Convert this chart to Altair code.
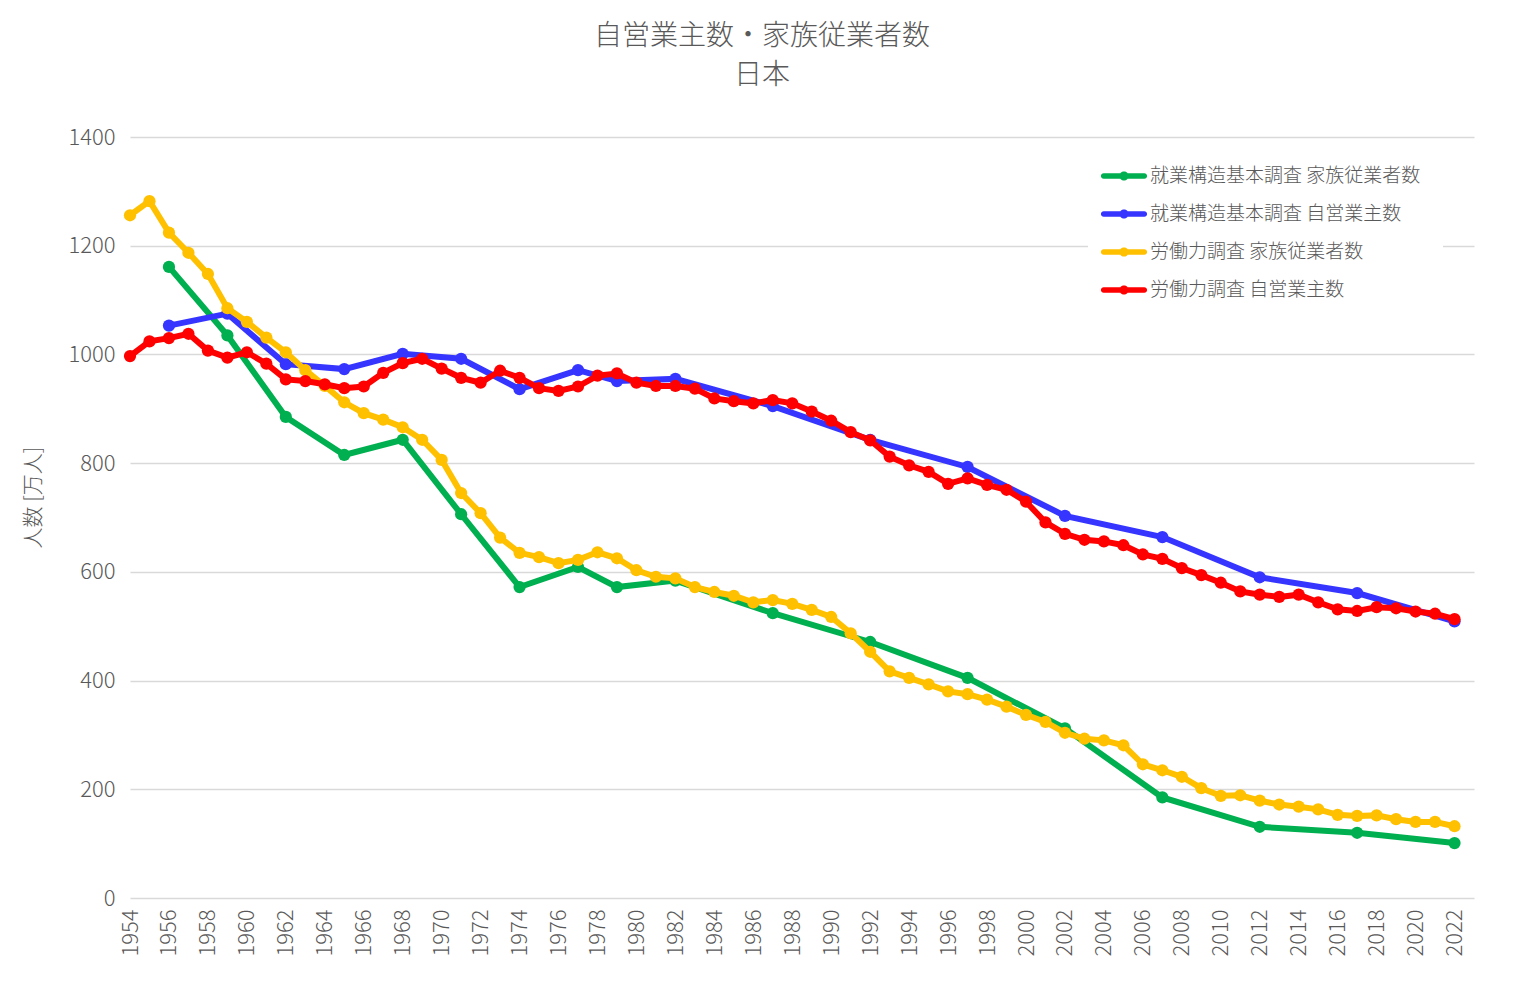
import altair as alt
import pandas as pd

# ---- data ----
lfs_years = list(range(1954, 2023))
lfs_family = [1256, 1282, 1224, 1187, 1148, 1085, 1060, 1031, 1004, 971,
              942, 912, 892, 880, 866, 843, 806, 745, 708, 663,
              635, 627, 616, 622, 636, 625, 603, 591, 588, 572,
              563, 556, 544, 548, 541, 530, 517, 487, 453, 417,
              405, 393, 380, 375, 365, 352, 337, 324, 304, 293,
              290, 281, 246, 235, 223, 202, 188, 189, 179, 172,
              168, 163, 153, 151, 152, 145, 140, 140, 132]
lfs_self = [997, 1024, 1030, 1038, 1007, 994, 1004, 983, 954, 951,
            945, 938, 941, 966, 984, 992, 974, 957, 948, 970,
            957, 938, 933, 941, 961, 965, 948, 942, 942, 937,
            919, 914, 910, 916, 910, 895, 878, 857, 842, 812,
            796, 784, 762, 772, 760, 751, 729, 691, 670, 659,
            656, 649, 632, 624, 607, 594, 580, 564, 558, 554,
            558, 544, 531, 528, 535, 533, 527, 523, 513]
ess_years = [1956, 1959, 1962, 1965, 1968, 1971, 1974, 1977, 1979, 1982,
             1987, 1992, 1997, 2002, 2007, 2012, 2017, 2022]
ess_family = [1161, 1035, 885, 815, 843, 706, 572, 609, 572, 584,
              524, 471, 405, 312, 185, 131, 120, 101]
ess_self = [1053, 1075, 982, 973, 1001, 992, 936, 971, 951, 955,
            905, 843, 793, 703, 664, 590, 561, 509]

series_names = ["就業構造基本調査 家族従業者数", "就業構造基本調査 自営業主数",
                "労働力調査 家族従業者数", "労働力調査 自営業主数"]
series_colors = ["#00B050", "#3535FF", "#FFC000", "#FF0000"]
x_ticks = list(range(1954, 2023, 2))
y_ticks = [0, 200, 400, 600, 800, 1000, 1200, 1400]

frames = []
for name, yrs, vals in [(series_names[0], ess_years, ess_family),
                        (series_names[1], ess_years, ess_self),
                        (series_names[2], lfs_years, lfs_family),
                        (series_names[3], lfs_years, lfs_self)]:
    frames.append(pd.DataFrame({"year": yrs, "value": vals, "series": name}))
df = pd.concat(frames, ignore_index=True)

FONT = "Noto Sans CJK JP"
GRAY = "#595959"

legend_path = ("M -1.45 -0.2 L 1.45 -0.2 A 0.2 0.2 0 0 1 1.45 0.2 L -1.45 0.2 "
               "A 0.2 0.2 0 0 1 -1.45 -0.2 Z "
               "M 0.33 0 A 0.33 0.33 0 1 1 -0.33 0 A 0.33 0.33 0 1 1 0.33 0 Z")

x_enc = alt.X("year:Q",
              scale=alt.Scale(domain=[1954, 2023], nice=False, zero=False),
              axis=alt.Axis(values=x_ticks, format="d", labelAngle=270,
                            labelAlign="right", labelBaseline="middle",
                            grid=False, ticks=False, domain=False,
                            labelPadding=11, labelFontSize=22,
                            labelColor=GRAY, labelFont=FONT,
                            labelFontWeight=300, title=None,
                            labelOverlap=False))
y_enc = alt.Y("value:Q",
              scale=alt.Scale(domain=[0, 1400], nice=False),
              axis=alt.Axis(values=y_ticks, format="d", grid=True, ticks=False,
                            domain=False, gridColor="#d9d9d9", gridWidth=1.5,
                            labelPadding=15, labelFontSize=22, labelColor=GRAY,
                            labelFont=FONT, labelFontWeight=300,
                            title="人数 [万人]", titleFontSize=21,
                            titleFont=FONT, titleFontWeight=300,
                            titleColor=GRAY, titlePadding=24, titleY=360))
color_enc = alt.Color("series:N",
                      scale=alt.Scale(domain=series_names, range=series_colors),
                      legend=alt.Legend(title=None, orient="none",
                                        legendX=958, legendY=3,
                                        symbolType=legend_path, symbolSize=784,
                                        symbolStrokeWidth=0, symbolOpacity=1,
                                        labelFont=FONT, labelFontSize=19,
                                        labelFontWeight=300, labelColor=GRAY,
                                        labelOffset=12, rowPadding=14,
                                        fillColor="white", padding=22,
                                        labelLimit=400))

layers = []
for name in series_names:
    base = alt.Chart(df).transform_filter(alt.datum.series == name)
    layers.append(base.mark_line(strokeWidth=6).encode(x=x_enc, y=y_enc, color=color_enc))
    layers.append(base.mark_circle(size=150, opacity=1).encode(x=x_enc, y=y_enc, color=color_enc))

chart = alt.layer(*layers).properties(
    width=1344, height=761,
    background="white",
    title=alt.TitleParams(text=["自営業主数・家族従業者数", "日本"],
                          anchor="middle", dx=-40, offset=36,
                          fontSize=28, font=FONT, fontWeight=300,
                          color=GRAY, lineHeight=39),
    autosize=alt.AutoSizeParams(type="none"),
    padding={"left": 122, "top": 129, "right": 40, "bottom": 80},
).configure_view(strokeWidth=0)

chart.save("out.html", embed_options={"renderer": "svg", "actions": False})
